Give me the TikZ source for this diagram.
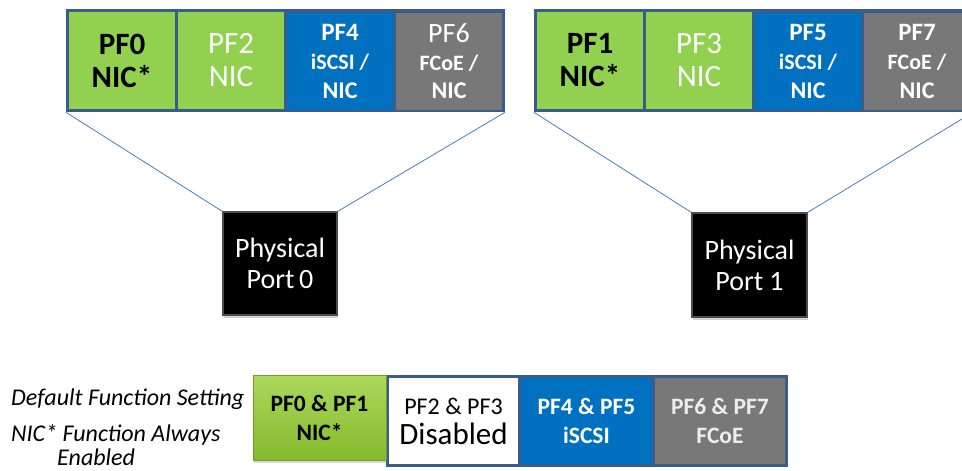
\documentclass[tikz,border=0pt]{standalone}
\usepackage{fontspec}
\setmainfont{Carlito}
\usetikzlibrary{shadows}
\definecolor{pfgreen}{RGB}{146,208,80}
\definecolor{pfblue}{RGB}{0,112,192}
\definecolor{pfgrey}{RGB}{120,120,120}
\definecolor{pfframe}{RGB}{56,93,138}
\definecolor{pfconn}{RGB}{74,126,187}
\definecolor{limetop}{RGB}{172,216,92}
\definecolor{limebot}{RGB}{132,186,44}
\newcommand\setfs[2]{\fontsize{#1}{#2}\selectfont}
\begin{document}
\begin{tikzpicture}[x=1pt,y=-1pt,
  grp/.style={fill=pfframe, inner sep=0pt, minimum width=439pt, minimum height=103pt},
  cell/.style={inner sep=0pt, minimum width=106pt, minimum height=97pt, align=center},
  gcell/.style={cell, fill=pfgreen},
  bcell/.style={cell, fill=pfblue, text=white},
  ycell/.style={cell, fill=pfgrey, text=white},
  nicstar/.style={font=\bfseries\setfs{31}{33}},
  nicplain/.style={text=white, font=\setfs{31}{33}},
  small/.style={font=\bfseries\setfs{22}{29}},
  port/.style={fill=black, draw=black!70, line width=1.2pt, text=white, inner sep=0pt,
    minimum width=114pt, minimum height=103pt, align=center, font=\setfs{28}{31},
    drop shadow={shadow xshift=1pt, shadow yshift=-3pt, opacity=0.35}},
  conn/.style={draw=pfconn, line width=0.8pt},
  lbl/.style={anchor=base west, inner sep=0pt, font=\itshape\setfs{24}{26}},
  bcellb/.style={inner sep=0pt, minimum height=86pt, align=center}
]
\useasboundingbox (0,0) rectangle (962,471);
\clip (0,0) rectangle (962,471);
\fill[white] (0,0) rectangle (962,471);

% left group
\node[grp] (grp0) at (285.5,60.5) {};
\node[gcell, nicstar] (pf0) at (122,60.5) {PF0\\NIC*};
\node[gcell, nicplain] (pf2) at (231,60.5) {PF2\\NIC};
\node[bcell, small] (pf4) at (340,61) {{\setfs{25}{29}PF4}\\iSCSI /\\{\setfs{24}{29}NIC}};
\node[ycell, font=\setfs{24}{28}] (pf6) at (449,61) {{\setfs{28}{28}PF6}\\{\bfseries\setfs{22}{28}FCoE /}\\{\bfseries\setfs{24}{28}NIC}};

% right group
\node[grp] (grp1) at (753.5,60.5) {};
\node[gcell, nicstar] (pf1) at (590,60.5) {PF1\\NIC*};
\node[gcell, nicplain] (pf3) at (699,60.5) {PF3\\NIC};
\node[bcell, small] (pf5) at (808,61) {{\setfs{25}{29}PF5}\\iSCSI /\\{\setfs{24}{29}NIC}};
\node[ycell, small] (pf7) at (917,61) {{\setfs{25}{29}PF7}\\FCoE /\\{\setfs{24}{29}NIC}};

% physical ports
\node[port] (port0) at (280,263.5) {Physical\\Port\,0};
\node[port, minimum width=115pt, minimum height=104pt] (port1) at (749.5,265) {Physical\\Port 1};

\draw[conn] (grp0.south west) -- (port0.north west);
\draw[conn] (grp0.south east) -- (port0.north east);
\draw[conn] (grp1.south west) -- (port1.north west);
\draw[conn] (grp1.south east) -- (port1.north east);

% bottom legend
\node[fill=pfframe, inner sep=0pt, minimum width=402pt, minimum height=92pt] (frm) at (587,421) {};
\node[bcellb, fill=white, minimum width=129pt, font=\setfs{24}{30}] (dis) at (453.5,421)
  {PF2 \& PF3\\{\setfs{31}{30}Disabled}};
\node[bcellb, fill=pfblue, text=white, minimum width=131pt, font=\bfseries\setfs{23.5}{29}] (isc) at (586.5,421)
  {PF4 \& PF5\\iSCSI};
\node[bcellb, fill=pfgrey, text=white!93!black, minimum width=130pt, font=\bfseries\setfs{23.5}{29}] (fco) at (720,421)
  {PF6 \& PF7\\FCoE};
\node[inner sep=0pt, minimum width=133pt, minimum height=85pt, top color=limetop, bottom color=limebot,
  draw=limebot!85!black, line width=0.8pt, align=center, font=\bfseries\setfs{23.5}{29},
  drop shadow={shadow xshift=1pt, shadow yshift=-3pt, opacity=0.3}] (nic) at (319.5,417.5)
  {PF0 \& PF1\\NIC*};

\node[lbl] (l1) at (11,405) {Default Function Setting};
\node[lbl] (l2) at (11,441) {NIC* Function Always};
\node[lbl] (l3) at (57,465) {Enabled};
\end{tikzpicture}
\end{document}
